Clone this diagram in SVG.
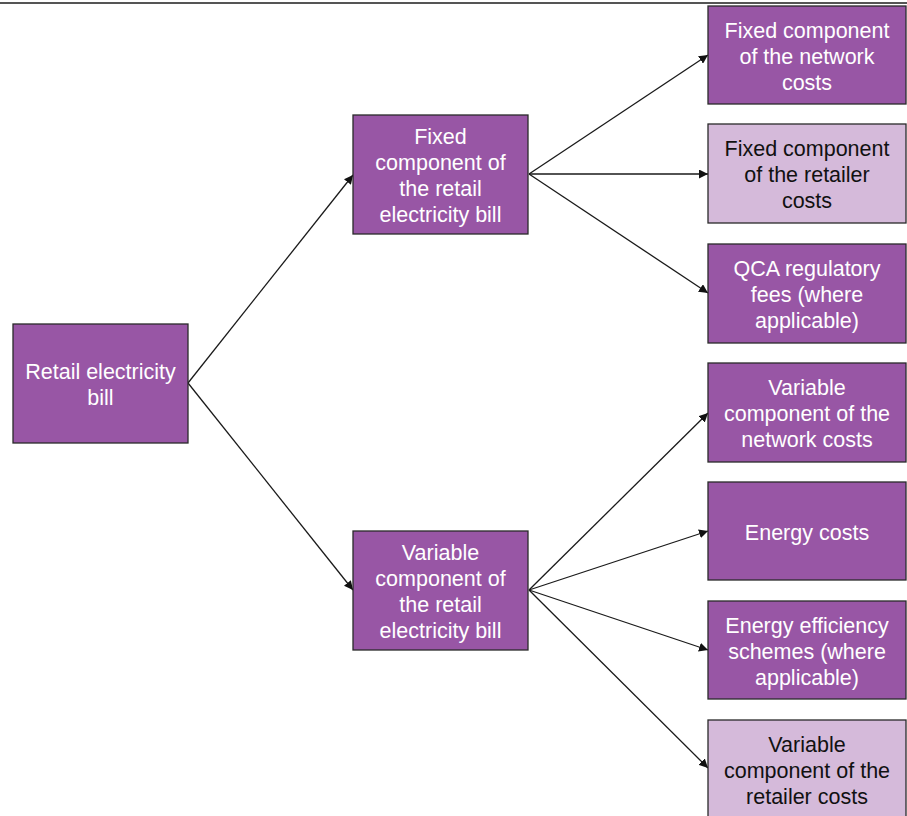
<svg xmlns="http://www.w3.org/2000/svg" width="907" height="816" viewBox="0 0 907 816">
<style>
.d{fill:#9856A5;stroke:#2a2a2a;stroke-width:1.3}
.l{fill:#D5BADA;stroke:#2a2a2a;stroke-width:1.3}
.t{font-family:"Liberation Sans",Arial,sans-serif;font-size:21.5px;text-anchor:middle;fill:#ffffff}
.k{fill:#111111}
.c{stroke:#1a1a1a;stroke-width:1.3;fill:none;marker-end:url(#ah)}
</style>
<defs>
<marker id="ah" viewBox="0 0 10 10" refX="10" refY="5" markerWidth="9" markerHeight="9" markerUnits="userSpaceOnUse" orient="auto">
<path d="M0,0 L10,5 L0,10 z" fill="#111"/>
</marker>
</defs>
<rect width="907" height="816" fill="#ffffff"/>
<line x1="0" y1="3" x2="907" y2="3" stroke="#555" stroke-width="2"/>
<g id="connectors">
<line class="c" x1="188" y1="383" x2="353" y2="175"/>
<line class="c" x1="188" y1="383" x2="353" y2="590"/>
<line class="c" x1="529" y1="174" x2="708" y2="55"/>
<line class="c" x1="529" y1="174" x2="708" y2="174"/>
<line class="c" x1="529" y1="174" x2="708" y2="293"/>
<line class="c" x1="529" y1="590" x2="708" y2="413"/>
<line class="c" x1="529" y1="590" x2="708" y2="531"/>
<line class="c" x1="529" y1="590" x2="708" y2="650"/>
<line class="c" x1="529" y1="590" x2="708" y2="768"/>
</g>
<g id="root">
<rect class="d" x="13" y="324" width="175" height="119"/>
<text class="t" x="100.5" y="379">Retail electricity</text>
<text class="t" x="100.5" y="405">bill</text>
</g>
<g id="fixed">
<rect class="d" x="353" y="115" width="175" height="119"/>
<text class="t" x="440.5" y="144">Fixed</text>
<text class="t" x="440.5" y="170">component of</text>
<text class="t" x="440.5" y="196">the retail</text>
<text class="t" x="440.5" y="222">electricity bill</text>
</g>
<g id="variable">
<rect class="d" x="353" y="531" width="175" height="119"/>
<text class="t" x="440.5" y="560">Variable</text>
<text class="t" x="440.5" y="586">component of</text>
<text class="t" x="440.5" y="612">the retail</text>
<text class="t" x="440.5" y="638">electricity bill</text>
</g>
<g id="fixed-network">
<rect class="d" x="708" y="6" width="198" height="98"/>
<text class="t" x="807" y="38">Fixed component</text>
<text class="t" x="807" y="64">of the network</text>
<text class="t" x="807" y="90">costs</text>
</g>
<g id="fixed-retailer">
<rect class="l" x="708" y="124" width="198" height="99"/>
<text class="t k" x="807" y="156">Fixed component</text>
<text class="t k" x="807" y="182">of the retailer</text>
<text class="t k" x="807" y="208">costs</text>
</g>
<g id="qca">
<rect class="d" x="708" y="244" width="198" height="99"/>
<text class="t" x="807" y="276">QCA regulatory</text>
<text class="t" x="807" y="302">fees (where</text>
<text class="t" x="807" y="328">applicable)</text>
</g>
<g id="variable-network">
<rect class="d" x="708" y="363" width="198" height="99"/>
<text class="t" x="807" y="395">Variable</text>
<text class="t" x="807" y="421">component of the</text>
<text class="t" x="807" y="447">network costs</text>
</g>
<g id="energy">
<rect class="d" x="708" y="482" width="198" height="98"/>
<text class="t" x="807" y="540">Energy costs</text>
</g>
<g id="efficiency">
<rect class="d" x="708" y="601" width="198" height="98"/>
<text class="t" x="807" y="633">Energy efficiency</text>
<text class="t" x="807" y="659">schemes (where</text>
<text class="t" x="807" y="685">applicable)</text>
</g>
<g id="variable-retailer">
<rect class="l" x="708" y="720" width="198" height="100"/>
<text class="t k" x="807" y="752">Variable</text>
<text class="t k" x="807" y="778">component of the</text>
<text class="t k" x="807" y="804">retailer costs</text>
</g>
</svg>
